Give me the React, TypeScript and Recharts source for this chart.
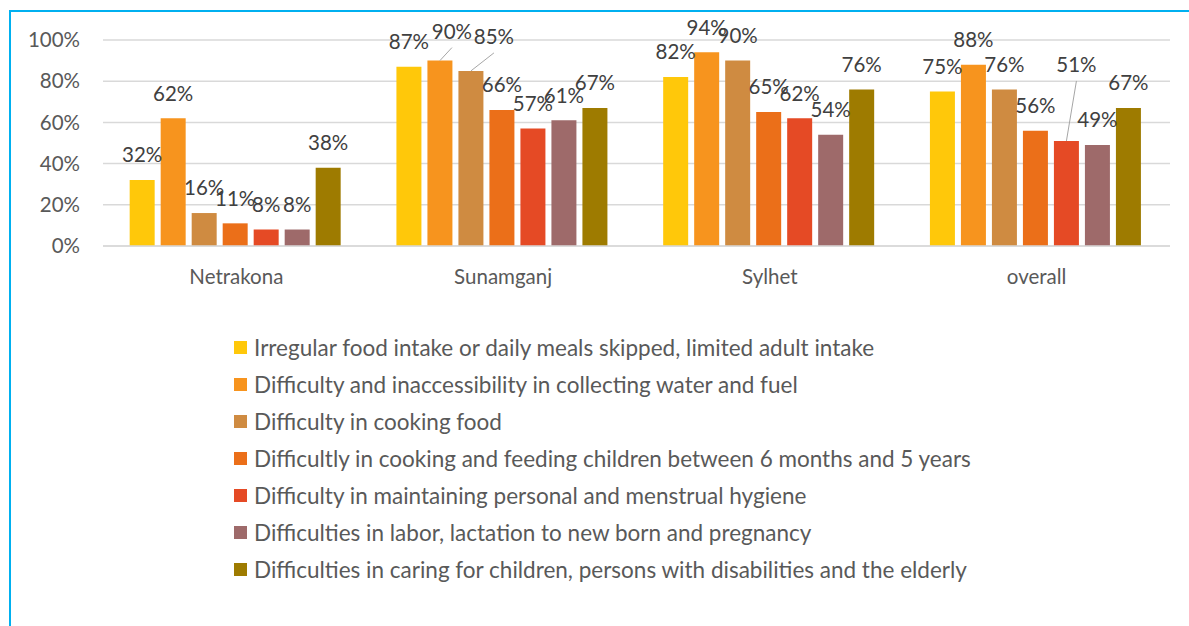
import React from 'react';
import { BarChart, Bar, XAxis, YAxis, CartesianGrid, LabelList } from 'recharts';

const districts = ['Netrakona', 'Sunamganj', 'Sylhet', 'overall'];

const seriesNames = [
    'Irregular food intake or daily meals skipped, limited adult intake',
    'Difficulty and inaccessibility in collecting water and fuel',
    'Difficulty in cooking food',
    'Difficultly in cooking and feeding children between 6 months and 5 years',
    'Difficulty in maintaining personal and menstrual hygiene',
    'Difficulties in labor, lactation to new born and pregnancy',
    'Difficulties in caring for children, persons with disabilities and the elderly',
];

const irregularFood = [32, 87, 82, 75];
const waterFuel = [62, 90, 94, 88];
const cookingFood = [16, 85, 90, 76];
const feedingChildren = [11, 66, 65, 56];
const hygiene = [8, 57, 62, 51];
const laborPregnancy = [8, 61, 54, 49];
const caring = [38, 67, 76, 67];

const seriesValues = [irregularFood, waterFuel, cookingFood, feedingChildren, hygiene, laborPregnancy, caring];

const colors = ['#FFC80A', '#F7941E', '#CF8B41', '#EB6F19', '#E54A25', '#9E6A6A', '#9E7B00'];

const yTicks = [0, 20, 40, 60, 80, 100];

// label nudges that Excel applied (series-index -> [dx, dy]), drawn with a leader line
const labelNudges: Record<string, [number, number]> = {
    '1-1': [12, -4],
    '2-1': [23, -9],
    '4-3': [10, -51],
};

const FONT = 'Lato, "Open Sans", sans-serif';

const chartData = districts.map((name, i) => {
    const row: Record<string, string | number> = { name };
    seriesValues.forEach((vals, s) => {
        row[`s${s}`] = vals[i];
    });
    return row;
});

function makeLabel(seriesIdx: number) {
    return (props: any) => {
        const { x, y, width, value, index } = props;
        const cx = Number(x) + Number(width) / 2;
        const top = Number(y);
        const nudge = labelNudges[`${seriesIdx}-${index}`];
        const lx = cx + (nudge ? nudge[0] : 0);
        const ly = top - 25 + (nudge ? nudge[1] : 0);
        return (
            <g>
                {nudge && (
                    <line x1={cx} y1={top} x2={lx} y2={ly + 16} stroke="#A6A6A6" strokeWidth={1} />
                )}
                <text
                    x={lx}
                    y={ly}
                    dy="0.36em"
                    textAnchor="middle"
                    fontFamily={FONT}
                    fontSize={20.5}
                    fill="#404040"
                >
                    {`${value}%`}
                </text>
            </g>
        );
    };
}

export default function App() {
    return (
        <div style={{ position: 'absolute', left: 0, top: 0, width: 1189, height: 626, background: '#fff', overflow: 'hidden' }}>
            <div
                style={{
                    position: 'absolute',
                    left: 9,
                    top: 10,
                    width: 1300,
                    height: 800,
                    borderTop: '2px solid #00B0F0',
                    borderLeft: '2px solid #00B0F0',
                }}
            />
            <div style={{ position: 'absolute', left: 0, top: 0 }}>
                <BarChart
                    width={1189}
                    height={626}
                    data={chartData}
                    margin={{ top: 40, right: 19, left: 0, bottom: 350 }}
                    barCategoryGap="10%"
                    barGap={6}
                >
                    <CartesianGrid vertical={false} stroke="#D9D9D9" strokeWidth={1.5} />
                    <XAxis
                        dataKey="name"
                        height={30}
                        tickLine={false}
                        axisLine={{ stroke: '#D9D9D9', strokeWidth: 1.5 }}
                        tickSize={0}
                        tickMargin={23}
                        tick={{ fontFamily: FONT, fontSize: 20.5, fill: '#595959' }}
                    />
                    <YAxis
                        width={103}
                        domain={[0, 100]}
                        ticks={yTicks}
                        tickFormatter={(v) => `${v}%`}
                        tickLine={false}
                        axisLine={false}
                        tickSize={0}
                        tickMargin={23}
                        tick={{ fontFamily: FONT, fontSize: 20.5, fill: '#595959' }}
                    />
                    {seriesNames.map((name, s) => (
                        <Bar key={name} dataKey={`s${s}`} name={name} fill={colors[s]} isAnimationActive={false}>
                            <LabelList dataKey={`s${s}`} content={makeLabel(s)} />
                        </Bar>
                    ))}
                </BarChart>
            </div>
            <div style={{ position: 'absolute', left: 234, top: 329, fontFamily: FONT, fontSize: 22.5, color: '#595959' }}>
                {seriesNames.map((name, s) => (
                    <div key={name} style={{ display: 'flex', alignItems: 'center', height: 37, whiteSpace: 'nowrap' }}>
                        <span style={{ display: 'inline-block', width: 13, height: 13, background: colors[s], marginRight: 7 }} />
                        <span>{name}</span>
                    </div>
                ))}
            </div>
        </div>
    );
}
